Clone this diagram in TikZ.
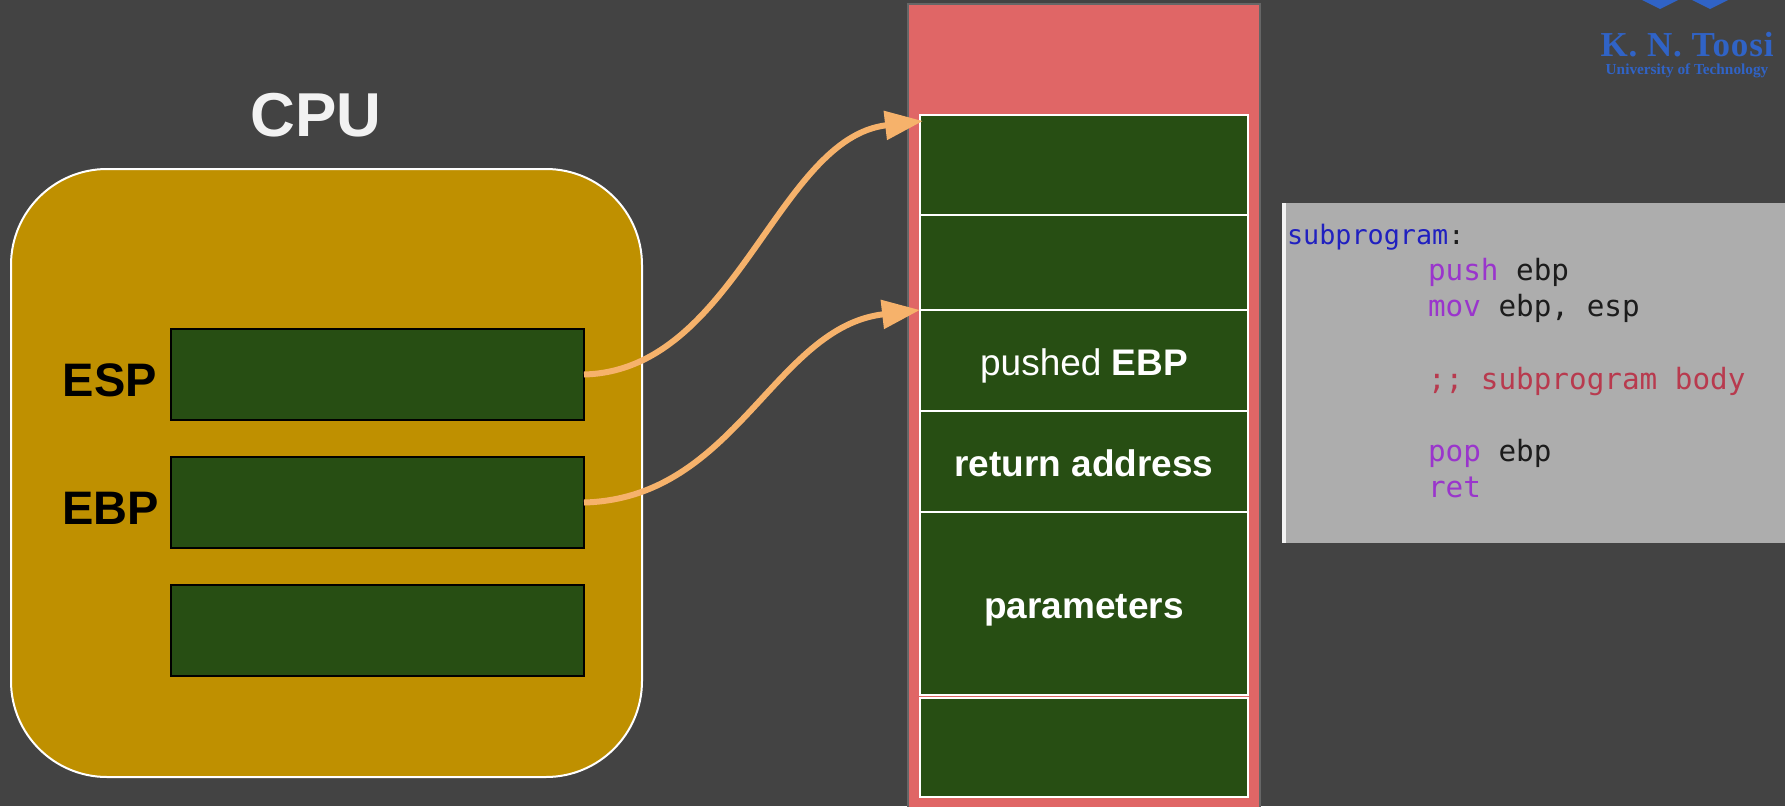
\documentclass[tikz,border=0pt]{standalone}
\usepackage{fontspec}
\setmainfont{Liberation Sans}
\newfontfamily\codefont{DejaVu Sans Mono}
\newfontfamily\logofont{Liberation Serif}
\usepackage{xcolor}
\usetikzlibrary{positioning}
\usetikzlibrary{arrows.meta}

\definecolor{slidegray}{HTML}{434343}
\definecolor{cpugold}{HTML}{BF9000}
\definecolor{cellgreen}{HTML}{274E13}
\definecolor{stackred}{HTML}{E06666}
\definecolor{pointerorange}{HTML}{F6B26B}
\definecolor{logoblue}{HTML}{3063C6}
\definecolor{codegray}{HTML}{ADADAD}
\definecolor{codeblue}{HTML}{2020C0}
\definecolor{codepurple}{HTML}{9A35CC}
\definecolor{codered}{HTML}{B83A4E}
\definecolor{codeink}{HTML}{1C1C1C}

\newcommand{\kw}[1]{\textcolor{codepurple}{#1}}

\begin{document}
\begin{tikzpicture}[
		x=1pt, y=-1pt,
		every node/.style = {
			shape=rectangle,
			align=center,
			inner sep=0pt,
			outer sep=0pt
		},
		cpubox/.style={draw=white, line width=2pt, fill=cpugold, rounded corners=96pt, minimum width=631pt, minimum height=608pt},
		regbox/.style={draw=black, line width=2pt, fill=cellgreen, minimum width=413pt, minimum height=91pt},
		reglabel/.style={text=black, font=\bfseries\fontsize{47}{54}\selectfont},
		stackbox/.style={draw=black!60, line width=2pt, fill=stackred, minimum width=352pt, minimum height=820pt},
		cellbox/.style={draw=white, line width=2pt, fill=cellgreen, text=white, minimum width=328pt, text height=30pt, text depth=0pt, font=\fontsize{37}{44}\selectfont},
		pointer/.style={-{Triangle[length=38pt, width=28pt]}, line width=6pt, draw=pointerorange}
		]
		\clip (0,0) rectangle (1785,806);
		\fill[slidegray] (0,0) rectangle (1785,806);

		% cpu side
		\node[cpubox] (cpu) at (326.5,473) {};
		\node[text=white!95!black, font=\bfseries\fontsize{62}{70}\selectfont] (cputitle) at (316,115) {CPU};
		\node[regbox] (esp) at (377.5,374.5) {};
		\node[regbox, below=37pt of esp] (ebp) {};
		\node[regbox, below=37pt of ebp] (spare) {};
		\node[reglabel, left=14pt of esp, yshift=-5.5pt] (esplabel) {ESP};
		\node[reglabel, left=12pt of ebp, yshift=-5.5pt] (ebplabel) {EBP};

		% stack side
		\node[stackbox, anchor=north] (stack) at (1084,4) {};
		\node[cellbox, minimum height=100pt, anchor=north] (cella) at (1084,115) {};
		\node[cellbox, minimum height=95pt, below=0pt of cella] (cellb) {};
		\node[cellbox, minimum height=101pt, below=0pt of cellb] (cellc) {pushed \textbf{EBP}};
		\node[cellbox, minimum height=101pt, below=0pt of cellc] (celld) {\textbf{return address}};
		\node[cellbox, minimum height=183pt, below=0pt of celld] (celle) {\textbf{parameters}};
		\node[cellbox, minimum height=99pt, below=3pt of celle] (cellf) {};

		% pointers
		\draw[pointer] (esp.east) .. controls +(152,-4) and +(-146,17) .. ([shift={(3,6)}]cella.north west);
		\draw[pointer] (ebp.east) .. controls +(152,-4) and +(-146,17) .. (cellc.north west);

		% code listing
		\node[fill=codegray, anchor=north west, minimum width=503pt, minimum height=340pt] (listing) at (1282,203) {};
		\fill[white!85!codegray] (listing.north west) rectangle ([xshift=4pt]listing.south west);
		\node[anchor=north west, align=left, text=codeink, font=\codefont\fontsize{29.3}{36.2}\selectfont] (code) at (1287,224) {%
			{\fontsize{26.8}{36.2}\selectfont\textcolor{codeblue}{subprogram}:}\\
			\hspace*{141pt}\kw{push} ebp\\
			\hspace*{141pt}\kw{mov} ebp, esp\\
			\mbox{}\\
			\hspace*{141pt}\textcolor{codered}{;; subprogram body}\\
			\mbox{}\\
			\hspace*{141pt}\kw{pop} ebp\\
			\hspace*{141pt}\kw{ret}};

		% logo
		\fill[logoblue] (1642,0) -- (1660,9) -- (1678,0) -- cycle;
		\fill[logoblue] (1692,0) -- (1710,9) -- (1728,0) -- cycle;
		\node[text=logoblue, font=\logofont\bfseries\fontsize{35}{40}\selectfont\addfontfeature{LetterSpace=2.5}] (logoname) at (1687,45) {K. N. Toosi};
		\node[text=logoblue, font=\logofont\bfseries\fontsize{15.3}{18}\selectfont] (logosub) at (1687,71) {University of Technology};
	\end{tikzpicture}
\end{document}
